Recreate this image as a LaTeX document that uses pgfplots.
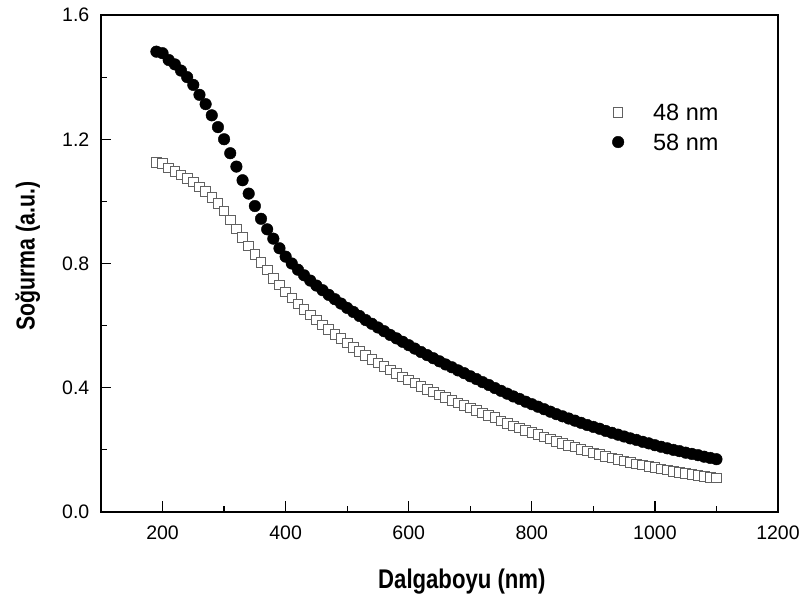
\documentclass[border=0pt]{standalone}
\usepackage{fontspec}
\setmainfont{Liberation Sans}
\newfontfamily\narrowfont[FakeStretch=0.82]{Liberation Sans}
\usepackage{pgfplots}
\pgfplotsset{compat=1.18}
\usepackage{pgfplotstable}
\pgfplotsset{mylegend/.style={legend image code/.code={\path[draw=none,fill=none] (-6bp,0bp) -- (35bp,0bp); \draw[##1] plot[only marks] coordinates {(0bp,0bp)};}}}

\pgfplotstableread{
x y
190 1.126
200 1.123
210 1.107
220 1.096
230 1.085
240 1.074
250 1.062
260 1.047
270 1.031
280 1.012
290 0.994
300 0.969
310 0.940
320 0.911
330 0.884
340 0.857
350 0.830
360 0.804
370 0.779
380 0.752
390 0.731
400 0.709
410 0.689
420 0.670
430 0.652
440 0.635
450 0.618
460 0.602
470 0.587
480 0.572
490 0.558
500 0.544
510 0.530
520 0.517
530 0.504
540 0.492
550 0.480
560 0.468
570 0.457
580 0.446
590 0.435
600 0.425
610 0.415
620 0.405
630 0.395
640 0.386
650 0.377
660 0.368
670 0.359
680 0.351
690 0.343
700 0.335
710 0.327
720 0.319
730 0.311
740 0.304
750 0.293
760 0.285
770 0.277
780 0.270
790 0.263
800 0.256
810 0.249
820 0.242
830 0.235
840 0.228
850 0.221
860 0.215
870 0.209
880 0.202
890 0.196
900 0.190
910 0.185
920 0.179
930 0.174
940 0.169
950 0.164
960 0.159
970 0.155
980 0.151
990 0.147
1000 0.143
1010 0.139
1020 0.135
1030 0.131
1040 0.127
1050 0.124
1060 0.121
1070 0.118
1080 0.115
1090 0.112
1100 0.109
}\dataA

\pgfplotstableread{
x y
190 1.482
200 1.477
210 1.455
220 1.441
230 1.421
240 1.400
250 1.375
260 1.343
270 1.313
280 1.277
290 1.239
300 1.200
310 1.155
320 1.112
330 1.068
340 1.025
350 0.985
360 0.944
370 0.910
380 0.880
390 0.849
400 0.822
410 0.800
420 0.780
430 0.762
440 0.745
450 0.729
460 0.714
470 0.699
480 0.685
490 0.671
500 0.657
510 0.644
520 0.631
530 0.618
540 0.606
550 0.594
560 0.582
570 0.570
580 0.559
590 0.548
600 0.537
610 0.526
620 0.515
630 0.505
640 0.495
650 0.485
660 0.475
670 0.466
680 0.456
690 0.447
700 0.437
710 0.428
720 0.418
730 0.409
740 0.399
750 0.390
760 0.381
770 0.372
780 0.364
790 0.355
800 0.347
810 0.339
820 0.331
830 0.323
840 0.315
850 0.308
860 0.301
870 0.294
880 0.287
890 0.280
900 0.274
910 0.268
920 0.261
930 0.255
940 0.249
950 0.243
960 0.237
970 0.232
980 0.226
990 0.221
1000 0.215
1010 0.210
1020 0.205
1030 0.200
1040 0.196
1050 0.191
1060 0.187
1070 0.183
1080 0.178
1090 0.174
1100 0.170
}\dataB

\begin{document}
\begin{tikzpicture}
\useasboundingbox (-101bp,-90bp) rectangle (703bp,512bp);
\begin{axis}[
  at={(0,0)}, anchor=south west,
  scale only axis, width=677bp, height=497bp,
  xmin=100, xmax=1200, ymin=0, ymax=1.6,
  xtick={200,400,600,800,1000,1200},
  minor xtick={300,500,700,900,1100},
  ytick={0,0.4,0.8,1.2,1.6},
  minor ytick={0.2,0.6,1.0,1.4},
  tick align=inside,
  xtick pos=bottom, ytick pos=left,
  major tick length=10.5bp, minor tick length=5.7bp,
  axis line style={line width=1.4bp, black},
  every tick/.style={line width=1.2bp, black},
  /pgf/number format/assume math mode=true,
  /pgf/number format/1000 sep={},
  ticklabel style={font=\fontsize{19.5bp}{19.5bp}\selectfont},
  xticklabel style={anchor=north, inner sep=0pt, yshift=-13.5bp},
  yticklabel style={anchor=east, inner sep=0pt, xshift=-11.5bp,
    /pgf/number format/fixed, /pgf/number format/fixed zerofill,
    /pgf/number format/precision=1},
  xlabel={Dalgaboyu (nm)},
  ylabel={Soğurma (a.u.)},
  xlabel style={font=\narrowfont\bfseries\fontsize{27bp}{27bp}\selectfont, at={(axis description cs:0.533,-0.139)}, anchor=center},
  ylabel style={font=\narrowfont\bfseries\fontsize{26bp}{26bp}\selectfont, at={(axis description cs:-0.108,0.515)}, anchor=center},
  legend style={draw=none, fill=none, inner sep=0pt, outer sep=0pt,
    at={(rel axis cs:0.755,0.82)}, anchor=north west,
    font=\fontsize{23.5bp}{23.5bp}\selectfont, row sep=13bp,
    nodes={inner sep=0pt, text depth=0pt}},
  legend cell align=left,
]
\addplot[only marks, mark=square*, mark size=4.8bp,
  mark options={draw=black!62, fill=white, line width=0.9bp}, mylegend]
  table {\dataA};
\addlegendentry{48 nm}
\addplot[only marks, mark=*, mark size=5.8bp,
  mark options={draw=black, fill=black}, mylegend]
  table {\dataB};
\addlegendentry{58 nm}
\end{axis}
\end{tikzpicture}
\end{document}
